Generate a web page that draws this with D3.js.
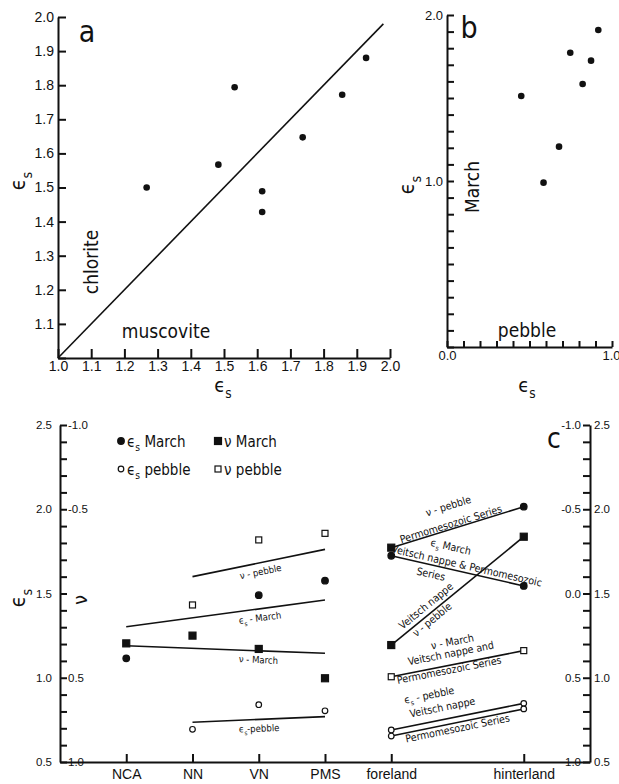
<!DOCTYPE html>
<html>
  <head>
    <script src="https://cdnjs.cloudflare.com/ajax/libs/d3/7.8.5/d3.min.js"></script>
    <style>
      body { margin: 0; background: #fff; }
      svg { font-family: "DejaVu Sans Condensed", "DejaVu Sans", sans-serif; font-stretch: condensed; }
      .axis text { fill: #111; font-family: inherit; }
      .axis path, .axis line { stroke: #111; stroke-width: 2; }
      .trend { stroke: #111; stroke-width: 1.6; fill: none; }
    </style>
  </head>
  <body>
    <svg width="619" height="784"></svg>
    <script>
      // panel a : eps_s muscovite (x) vs eps_s chlorite (y)
      var muscovite = [1.267, 1.483, 1.532, 1.615, 1.615, 1.737, 1.856, 1.928];
      var chlorite  = [1.50, 1.567, 1.794, 1.489, 1.428, 1.647, 1.772, 1.88];

      // panel b : eps_s pebble (x) vs eps_s March (y)
      var pebble = [0.45, 0.585, 0.679, 0.747, 0.822, 0.873, 0.917];
      var march  = [1.512, 0.99, 1.207, 1.773, 1.584, 1.725, 1.91];

      // panel c : categories
      var cats = ["NCA", "NN", "VN", "PMS", "foreland", "hinterland"];
      var catIndex = [0, 1, 2, 3, 4, 6];

      // NCA, NN, VN, PMS
      var esMarch  = [1.115, null, 1.49, 1.576];
      var nuMarch  = [0.296, 0.250, 0.329, 0.503];
      var esPebble = [null, 0.694, 0.840, 0.804];
      var nuPebble = [null, 0.068, -0.318, -0.357];

      // regression lines over NCA..PMS
      var trendNames = ["ν - pebble", "ϵs - March", "ν - March", "ϵs-pebble"];
      var trendKind  = ["nu", "es", "nu", "es"];
      var trendFrom  = [1, 0, 0, 1];
      var trendStart = [-0.100, 1.303, 0.310, 0.736];
      var trendEnd   = [-0.262, 1.461, 0.355, 0.769];

      // foreland -> hinterland
      var fhStart     = [-0.272, 1.724, 0.306, 0.494, 0.690, 0.654];
      var fhEnd       = [2.015, 1.545, -0.337, 0.339, 0.848, 0.815];
      var fhStartMark = ["nuMarch", "esMarch", "nuMarch", "nuPebble", "esPebble", "esPebble"];
      var fhEndMark   = ["esMarch", "esMarch", "nuMarch", "nuPebble", "esPebble", "esPebble"];
      var fhLabels = [
        ["ν - pebble", "Permomesozoic Series"],
        ["ϵs March", "Veitsch nappe & Permomesozoic", "Series"],
        ["Veitsch nappe", "ν - pebble"],
        ["ν - March", "Veitsch nappe and", "Permomesozoic Series"],
        ["ϵs - pebble", "Veitsch nappe"],
        ["Permomesozoic Series"]
      ];

      var legendKeys  = ["esMarch", "nuMarch", "esPebble", "nuPebble"];
      var legendNames = ["ϵs March", "ν March", "ϵs pebble", "ν pebble"];

      // label placement along the foreland/hinterland lines: [along, normal]
      var fhLabelPos = [
        [[-2.6, 23], [-5.4, 5]],
        [[-11.8, 22], [7.9, 6.9], [-25.2, -9]],
        [[-33.9, 8.4], [-37.9, -6]],
        [[-0.7, 22.6], [-4.5, 11.5], [-9.4, -4.6]],
        [[-23.5, 26.8], [-12.9, 12.2]],
        [[-1.1, -5.7]]
      ];

      var svg = d3.select("svg");
      var fmt = d => d.toFixed(1);

      function rich(text, str, fs) {
        var parts = str.split("ϵs");
        parts.forEach((p, i) => {
          if (i > 0) {
            text.append("tspan").text("ϵ");
            text.append("tspan").attr("dy", fs * 0.3).attr("font-size", fs * 0.68).text("s");
            text.append("tspan").attr("dy", -fs * 0.3).text(p);
          } else if (p) {
            text.append("tspan").text(p);
          }
        });
        return text;
      }

      function label(x, y, str, fs, rot, anchor) {
        var t = svg.append("text")
          .attr("transform", `translate(${x},${y}) rotate(${rot || 0})`)
          .attr("text-anchor", anchor || "middle")
          .attr("font-size", fs)
          .attr("fill", "#111");
        return rich(t, str, fs);
      }

      function drawAxis(tx, ty, ax, fs, bare) {
        var g = svg.append("g").attr("class", "axis")
          .attr("transform", `translate(${tx},${ty})`)
          .call(ax);
        if (bare) g.selectAll(".domain, .tick line").remove();
        g.selectAll("text").attr("font-size", fs);
        return g;
      }

      var tenths = (a, b) => d3.range(Math.round(a * 10), Math.round(b * 10) + 1).map(d => d / 10);

      // ---------- panel a ----------
      var xA = d3.scaleLinear().domain([1, 2]).range([58, 390]);
      var yA = d3.scaleLinear().domain([1, 2]).range([358, 17]);

      drawAxis(58, 0, d3.axisLeft(yA).tickValues(tenths(1, 2))
        .tickFormat(d => d === 1 ? "" : fmt(d))
        .tickSize(-8).tickSizeOuter(0).tickPadding(4), 14);
      drawAxis(0, 358, d3.axisBottom(xA).tickValues(tenths(1, 2))
        .tickFormat(fmt).tickSize(-9).tickSizeOuter(0).tickPadding(3), 14);

      svg.append("line").attr("class", "trend")
        .attr("x1", xA(1)).attr("y1", yA(1))
        .attr("x2", xA(1.98)).attr("y2", yA(1.98));

      svg.selectAll("circle.pa")
        .data(muscovite)
        .enter()
        .append("circle")
          .attr("class", "pa")
          .attr("cx", d => xA(d))
          .attr("cy", (d, i) => yA(chlorite[i]))
          .attr("r", 3.3)
          .attr("fill", "#111");

      label(87, 42, "a", 30);
      label(91, 262, "chlorite", 19, -90).attr("dy", "0.35em");
      label(166, 338, "muscovite", 19);
      label(18, 181, "ϵs", 21, -90).attr("dy", "0.35em");
      label(223, 392, "ϵs", 20);

      // ---------- panel b ----------
      var xB = d3.scaleLinear().domain([0, 1]).range([447, 612]);
      var yB = d3.scaleLinear().domain([0, 2]).range([347, 15]);

      drawAxis(447, 0, d3.axisLeft(yB).tickValues(tenths(0, 2))
        .tickFormat(d => (d === 1 || d === 2) ? fmt(d) : "")
        .tickSize(-7).tickSizeOuter(0).tickPadding(4), 13);
      drawAxis(0, 347, d3.axisBottom(xB).tickValues(tenths(0, 1))
        .tickFormat(d => (d === 0 || d === 1) ? fmt(d) : "")
        .tickSize(-6).tickSizeOuter(0).tickPadding(4), 13)
        .selectAll("text").filter(d => d === 1)
          .attr("text-anchor", "end").attr("dx", 8);

      svg.selectAll("circle.pb")
        .data(pebble)
        .enter()
        .append("circle")
          .attr("class", "pb")
          .attr("cx", d => xB(d))
          .attr("cy", (d, i) => yB(march[i]))
          .attr("r", 3.3)
          .attr("fill", "#111");

      label(469, 38, "b", 30);
      label(472, 187, "March", 19, -90).attr("dy", "0.35em");
      label(527, 337, "pebble", 19);
      label(407, 185, "ϵs", 21, -90).attr("dy", "0.35em");
      label(527, 392, "ϵs", 20);

      // ---------- panel c ----------
      var xC  = d3.scaleLinear().domain([-1, 7]).range([60, 590]);
      var yEs = d3.scaleLinear().domain([0.5, 2.5]).range([762, 425]);
      var yNu = d3.scaleLinear().domain([1, -1]).range([762, 425]);
      var isMajor = d => Math.abs(d * 2 - Math.round(d * 2)) < 1e-6;

      drawAxis(60, 0, d3.axisLeft(yEs).tickValues(tenths(0.5, 2.5))
        .tickFormat(d => isMajor(d) ? fmt(d) : "")
        .tickSize(-7).tickSizeOuter(0).tickPadding(8), 11.5);
      drawAxis(60, 0, d3.axisRight(yNu).tickValues([-1, -0.5, 0.5, 1])
        .tickFormat(fmt).tickSize(0).tickPadding(8), 11.5, true);

      drawAxis(590, 0, d3.axisRight(yEs).tickValues(tenths(0.5, 2.5))
        .tickFormat(d => isMajor(d) ? fmt(d) : "")
        .tickSize(-7).tickSizeOuter(0).tickPadding(4), 11.5);
      drawAxis(590, 0, d3.axisLeft(yNu).tickValues([-1, -0.5, 0, 0.5, 1])
        .tickFormat(fmt).tickSize(0).tickPadding(9), 11.5, true);

      drawAxis(0, 762, d3.axisBottom(xC).tickValues(catIndex)
        .tickFormat((d, i) => cats[i])
        .tickSize(-8).tickSizeOuter(0).tickPadding(7), 14);

      label(18, 598, "ϵs", 21, -90).attr("dy", "0.35em");
      label(80, 600, "ν", 20, -90).attr("dy", "0.35em");
      label(554, 448, "c", 28);

      function yOf(key, v) { return key.charAt(0) === "e" ? yEs(v) : yNu(v); }

      function marker(g, key, x, y) {
        var filled = key.indexOf("March") > 0;
        if (key.charAt(0) === "e") {
          g.append("circle").attr("cx", x).attr("cy", y)
            .attr("r", filled ? 3.3 : 2.8)
            .attr("fill", filled ? "#111" : "#fff")
            .attr("stroke", "#111").attr("stroke-width", 1.2);
        } else {
          var s = filled ? 7 : 6;
          g.append("rect").attr("x", x - s / 2).attr("y", y - s / 2)
            .attr("width", s).attr("height", s)
            .attr("fill", filled ? "#111" : "#fff")
            .attr("stroke", "#111").attr("stroke-width", 1.2);
        }
      }

      // trend lines over NCA..PMS
      trendNames.forEach((name, i) => {
        var x1 = xC(catIndex[trendFrom[i]]), x2 = xC(catIndex[3]);
        var y1 = yOf(trendKind[i], trendStart[i]), y2 = yOf(trendKind[i], trendEnd[i]);
        svg.append("line").attr("class", "trend")
          .attr("x1", x1).attr("y1", y1).attr("x2", x2).attr("y2", y2);
        var xm = xC(catIndex[2]);
        var ym = y1 + (y2 - y1) * (xm - x1) / (x2 - x1);
        var ang = Math.atan2(y2 - y1, x2 - x1) * 180 / Math.PI;
        var t = svg.append("text")
          .attr("transform", `translate(${xm},${ym}) rotate(${ang})`)
          .attr("text-anchor", "middle").attr("font-size", 9.5)
          .attr("y", 9).attr("dy", "0.35em").attr("fill", "#111");
        rich(t, name, 9.5);
      });

      var gm = svg.append("g");
      var leftSeries = { esMarch: esMarch, nuMarch: nuMarch, esPebble: esPebble, nuPebble: nuPebble };
      Object.keys(leftSeries).forEach(key => {
        leftSeries[key].forEach((v, i) => {
          if (v !== null) marker(gm, key, xC(catIndex[i]), yOf(key, v));
        });
      });

      // foreland -> hinterland lines
      fhStart.forEach((v, i) => {
        var x1 = xC(catIndex[4]), x2 = xC(catIndex[5]);
        var y1 = yOf(fhStartMark[i], v), y2 = yOf(fhEndMark[i], fhEnd[i]);
        svg.append("line").attr("class", "trend")
          .attr("x1", x1).attr("y1", y1).attr("x2", x2).attr("y2", y2);
        var ang = Math.atan2(y2 - y1, x2 - x1) * 180 / Math.PI;
        var g = svg.append("g")
          .attr("transform", `translate(${(x1 + x2) / 2},${(y1 + y2) / 2}) rotate(${ang})`);
        fhLabels[i].forEach((txt, j) => {
          var p = fhLabelPos[i][j];
          var t = g.append("text").attr("x", p[0]).attr("y", -p[1])
            .attr("dy", "0.35em").attr("text-anchor", "middle")
            .attr("font-size", 10.5).attr("fill", "#111");
          rich(t, txt, 10.5);
        });
        marker(gm, fhStartMark[i], x1, y1);
        marker(gm, fhEndMark[i], x2, y2);
      });
      gm.raise();

      // legend
      legendKeys.forEach((key, i) => {
        var lx = i % 2 === 0 ? 121 : 218;
        var ly = i < 2 ? 441 : 469;
        marker(svg, key, lx, ly);
        var t = svg.append("text").attr("x", lx + 6).attr("y", ly + 5.5)
          .attr("font-size", 15).attr("fill", "#111");
        rich(t, legendNames[i], 15);
      });
    </script>
  </body>
</html>
